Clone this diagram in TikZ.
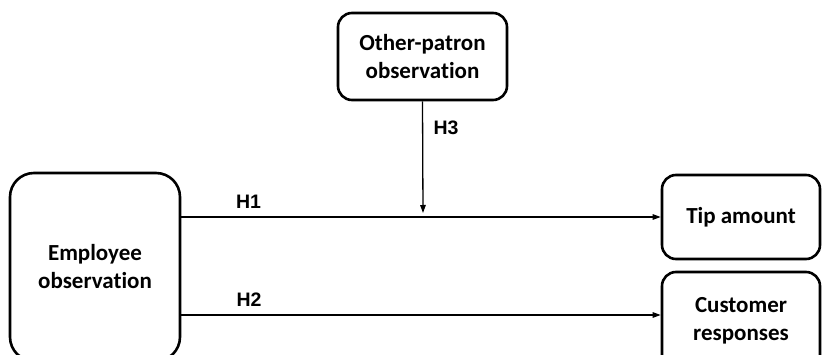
\documentclass[tikz,border=0pt]{standalone}
\usepackage{fontspec}
\setmainfont[Ligatures=NoCommon]{Carlito}
\newfontfamily\hfont{Liberation Sans}
\usetikzlibrary{arrows.meta,calc}
\begin{document}
\begin{tikzpicture}[x=1pt,y=1pt,
  box/.style={draw=black,line width=2.6pt,align=center,inner sep=0pt,
    font=\fontsize{23}{28}\selectfont\bfseries},
  lbl/.style={font=\hfont\fontsize{19.5}{24}\selectfont\bfseries,inner sep=0pt},
  conn/.style={line width=1.3pt,-{Triangle[length=8pt,width=5.5pt]}}]
\useasboundingbox (0,0) rectangle (822,354);
\node[box,rounded corners=24pt,minimum width=170pt,minimum height=188pt] (emp) at (95,87) {Employee\\observation};
\node[box,rounded corners=14pt,minimum width=169pt,minimum height=87pt] (op) at (422.5,297.5) {Other-patron\\observation};
\node[box,rounded corners=14pt,minimum width=158pt,minimum height=84pt] (tip) at (741,137) {Tip amount};
\node[box,rounded corners=14pt,minimum width=158pt,minimum height=98pt] (cust) at (741,33) {Customer\\responses};
\coordinate (h2) at (0,39);
\coordinate (m) at (423,141);
\draw[conn] (emp.east |- tip.west) -- (tip.west);
\draw[conn] (emp.east |- h2) -- (cust.west |- h2);
\draw[conn] (op.south) -- (m);
\node[lbl] (l1) at (248.5,152) {H1};
\node[lbl] (l2) at (249,54) {H2};
\node[lbl] (l3) at (446,226.5) {H3};
\end{tikzpicture}
\end{document}
